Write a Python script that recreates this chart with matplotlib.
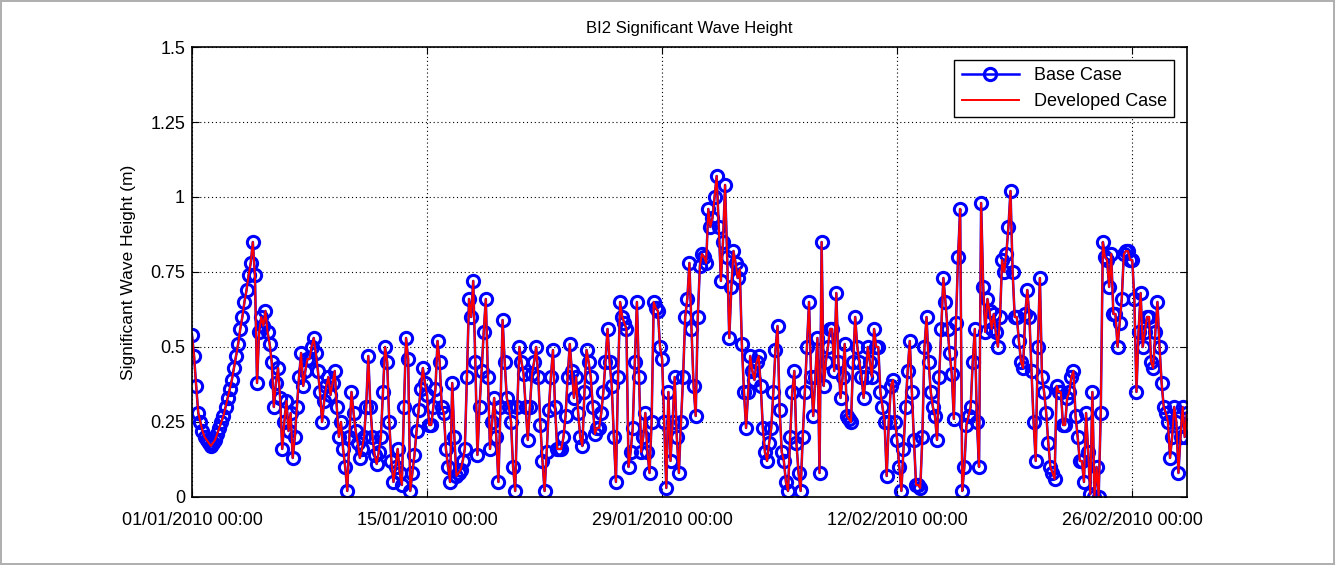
import matplotlib
matplotlib.use("Agg")
import matplotlib.pyplot as plt
import matplotlib.dates as mdates
import pandas as pd

# significant wave height (m) at 3-hourly steps from 01/01/2010 00:00
# (one row per day, 8 readings each)
base_case = [
    0.54, 0.47, 0.37, 0.28, 0.25, 0.22, 0.20, 0.19,
    0.18, 0.17, 0.18, 0.19, 0.21, 0.23, 0.25, 0.27,
    0.30, 0.33, 0.36, 0.39, 0.43, 0.47, 0.51, 0.56,
    0.60, 0.65, 0.69, 0.74, 0.78, 0.85, 0.74, 0.38,
    0.55, 0.60, 0.57, 0.62, 0.55, 0.51, 0.45, 0.30,
    0.38, 0.43, 0.33, 0.16, 0.25, 0.32, 0.22, 0.28,
    0.13, 0.20, 0.30, 0.40, 0.48, 0.37, 0.42, 0.46,
    0.46, 0.50, 0.53, 0.48, 0.42, 0.35, 0.25, 0.32,
    0.37, 0.40, 0.34, 0.38, 0.42, 0.30, 0.20, 0.25,
    0.16, 0.10, 0.02, 0.20, 0.35, 0.28, 0.22, 0.18,
    0.13, 0.16, 0.20, 0.30, 0.47, 0.30, 0.20, 0.14,
    0.11, 0.15, 0.20, 0.35, 0.50, 0.45, 0.25, 0.12,
    0.05, 0.10, 0.16, 0.08, 0.04, 0.30, 0.53, 0.46,
    0.02, 0.08, 0.14, 0.22, 0.29, 0.36, 0.43, 0.38,
    0.34, 0.24, 0.24, 0.30, 0.36, 0.52, 0.45, 0.30,
    0.28, 0.16, 0.10, 0.05, 0.38, 0.20, 0.07, 0.08,
    0.09, 0.12, 0.16, 0.40, 0.66, 0.60, 0.72, 0.45,
    0.14, 0.30, 0.42, 0.55, 0.66, 0.40, 0.16, 0.25,
    0.33, 0.20, 0.05, 0.30, 0.59, 0.45, 0.33, 0.30,
    0.25, 0.10, 0.02, 0.30, 0.50, 0.45, 0.41, 0.30,
    0.19, 0.30, 0.41, 0.45, 0.50, 0.40, 0.24, 0.12,
    0.02, 0.15, 0.29, 0.40, 0.49, 0.30, 0.16, 0.16,
    0.16, 0.20, 0.27, 0.40, 0.51, 0.42, 0.33, 0.40,
    0.28, 0.20, 0.17, 0.35, 0.49, 0.45, 0.40, 0.30,
    0.21, 0.23, 0.23, 0.28, 0.35, 0.45, 0.56, 0.45,
    0.37, 0.20, 0.05, 0.40, 0.65, 0.60, 0.58, 0.56,
    0.10, 0.15, 0.23, 0.45, 0.65, 0.40, 0.15, 0.20,
    0.28, 0.15, 0.08, 0.25, 0.65, 0.63, 0.62, 0.50,
    0.46, 0.25, 0.03, 0.35, 0.12, 0.25, 0.40, 0.20,
    0.08, 0.25, 0.40, 0.60, 0.66, 0.78, 0.56, 0.37,
    0.27, 0.60, 0.77, 0.81, 0.80, 0.78, 0.96, 0.90,
    0.93, 1.00, 1.07, 0.90, 0.72, 0.85, 1.04, 0.80,
    0.53, 0.70, 0.82, 0.78, 0.73, 0.76, 0.51, 0.35,
    0.23, 0.35, 0.47, 0.42, 0.39, 0.45, 0.47, 0.37,
    0.23, 0.15, 0.12, 0.18, 0.23, 0.35, 0.49, 0.57,
    0.29, 0.15, 0.12, 0.05, 0.02, 0.20, 0.35, 0.42,
    0.18, 0.08, 0.02, 0.20, 0.35, 0.50, 0.65, 0.40,
    0.27, 0.40, 0.53, 0.08, 0.85, 0.37, 0.45, 0.50,
    0.56, 0.56, 0.42, 0.68, 0.45, 0.33, 0.40, 0.51,
    0.27, 0.26, 0.25, 0.45, 0.60, 0.50, 0.45, 0.40,
    0.33, 0.40, 0.50, 0.45, 0.40, 0.56, 0.50, 0.50,
    0.35, 0.30, 0.25, 0.07, 0.25, 0.37, 0.39, 0.25,
    0.19, 0.10, 0.02, 0.16, 0.30, 0.42, 0.52, 0.35,
    0.19, 0.04, 0.04, 0.03, 0.20, 0.50, 0.60, 0.45,
    0.35, 0.30, 0.27, 0.19, 0.40, 0.56, 0.73, 0.65,
    0.56, 0.48, 0.41, 0.26, 0.58, 0.80, 0.96, 0.02,
    0.10, 0.24, 0.27, 0.30, 0.45, 0.56, 0.25, 0.10,
    0.98, 0.70, 0.55, 0.66, 0.62, 0.56, 0.61, 0.55,
    0.50, 0.60, 0.79, 0.75, 0.81, 0.90, 1.02, 0.75,
    0.60, 0.60, 0.52, 0.45, 0.43, 0.61, 0.69, 0.60,
    0.42, 0.25, 0.12, 0.50, 0.73, 0.40, 0.35, 0.28,
    0.18, 0.10, 0.08, 0.06, 0.37, 0.35, 0.35, 0.24,
    0.24, 0.33, 0.35, 0.40, 0.42, 0.27, 0.20, 0.12,
    0.12, 0.05, 0.28, 0.15, 0.01, 0.35, 0.00, 0.10,
    0.00, 0.28, 0.85, 0.80, 0.79, 0.70, 0.81, 0.61,
    0.61, 0.50, 0.58, 0.66, 0.81, 0.82, 0.82, 0.79,
    0.79, 0.66, 0.35, 0.55, 0.68, 0.50, 0.55, 0.60,
    0.60, 0.45, 0.43, 0.55, 0.65, 0.50, 0.38, 0.30,
    0.28, 0.25, 0.13, 0.20, 0.30, 0.25, 0.08, 0.20,
    0.30, 0.20, 0.28,
]
# the developed case sits on top of the base case everywhere
developed_case = list(base_case)

times = pd.date_range("2010-01-01 00:00", periods=len(base_case), freq="3h")
tick_dates = pd.to_datetime(["2010-01-01", "2010-01-15", "2010-01-29", "2010-02-12", "2010-02-26"])
y_ticks = [0, 0.25, 0.5, 0.75, 1, 1.25, 1.5]
y_labels = ["0", "0.25", "0.5", "0.75", "1", "1.25", "1.5"]

plt.rcParams["font.family"] = ["Liberation Sans", "DejaVu Sans"]

fig = plt.figure(figsize=(13.35, 5.65), dpi=100)
fig.patch.set_edgecolor("#b0b0b0")
fig.patch.set_linewidth(1.5)
ax = fig.add_axes([0.1438, 0.1204, 0.7452, 0.7964])

ax.plot(times, base_case, color="blue", linewidth=1.8, marker="o", markersize=8.8,
        markerfacecolor="none", markeredgewidth=2.2, label="Base Case")
ax.plot(times, developed_case, color="red", linewidth=1.4, label="Developed Case")

ax.set_xlim(times[0], times[-1])
ax.set_ylim(0, 1.5)
ax.set_xticks(tick_dates)
ax.xaxis.set_major_formatter(mdates.DateFormatter("%d/%m/%Y %H:%M"))
ax.set_yticks(y_ticks)
ax.set_yticklabels(y_labels)
ax.tick_params(direction="in", length=5, width=0.8, labelsize=13, top=True, right=True)
ax.tick_params(axis="x", pad=11)
ax.tick_params(axis="y", pad=5)
ax.grid(True, color="black", linestyle=(0, (1, 2.5)), linewidth=0.8)
for s in ax.spines.values():
    s.set_linewidth(1.2)

ax.set_title("BI2 Significant Wave Height", fontsize=12, pad=10)
ax.set_ylabel("Significant Wave Height (m)", fontsize=12.5, labelpad=10)

leg = ax.legend(loc="upper right", fontsize=13, fancybox=False, edgecolor="black",
                framealpha=1, borderaxespad=0.7, handlelength=3.2)
leg.get_frame().set_linewidth(1.0)

fig.savefig("out.png", dpi=100)
